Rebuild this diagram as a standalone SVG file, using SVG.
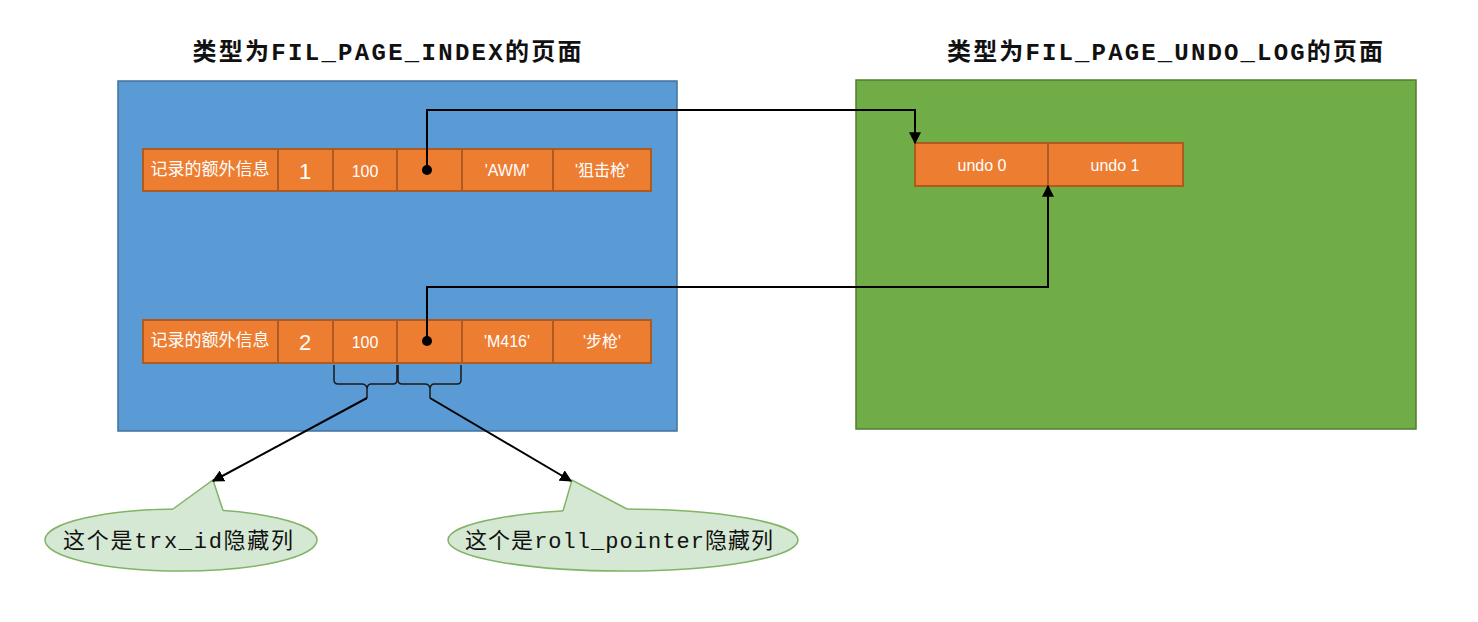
<svg xmlns="http://www.w3.org/2000/svg" width="1478" height="622" viewBox="0 0 1478 622">
<defs>
<style>
.page-blue{fill:#5B9BD5;stroke:#41719C;stroke-width:1.5}
.page-green{fill:#70AD47;stroke:#507E32;stroke-width:1.5}
.cell{fill:#ED7D31;stroke:#AE5A21;stroke-width:2}
.ct{font-family:"Liberation Sans","Noto Sans CJK SC",sans-serif;font-size:16px;fill:#ffffff;text-anchor:middle;dominant-baseline:central}
.lbl{font-size:17px}
.big{font-size:22px}
.title{font-family:"Liberation Mono","Noto Sans CJK SC",monospace;font-size:24px;font-weight:bold;fill:#111;text-anchor:middle}
.call{fill:#D5E8D4;stroke:#82B366;stroke-width:1.5}
.callfill{fill:#D5E8D4;stroke:none}
.calledge{fill:none;stroke:#82B366;stroke-width:1.5}
.callt{font-family:"Liberation Mono","Noto Sans CJK SC",monospace;font-size:22px;fill:#111;text-anchor:middle;dominant-baseline:central}
.wire{fill:none;stroke:#000;stroke-width:2}
.brace{fill:none;stroke:#1a1a1a;stroke-width:1.5}
</style>
<marker id="arr2" viewBox="0 0 10 10" refX="9" refY="5" markerWidth="12" markerHeight="12" markerUnits="userSpaceOnUse" orient="auto"><path d="M0,0 L10,5 L0,10 z" fill="#000"/></marker>
</defs>
<rect width="1478" height="622" fill="#fff"/>

<g id="title-index"><text class="title" x="387" y="60" textLength="389" lengthAdjust="spacing">类型为FIL_PAGE_INDEX的页面</text></g>
<g id="title-undo"><text class="title" x="1165" y="60" textLength="436" lengthAdjust="spacing">类型为FIL_PAGE_UNDO_LOG的页面</text></g>

<g id="page-index"><rect class="page-blue" x="118" y="81" width="559" height="350"/></g>
<g id="page-undo"><rect class="page-green" x="856" y="80" width="560" height="349"/></g>

<g id="record1">
<rect class="cell" x="143" y="149" width="135" height="42"/>
<rect class="cell" x="278" y="149" width="55" height="42"/>
<rect class="cell" x="333" y="149" width="64" height="42"/>
<rect class="cell" x="397" y="149" width="65" height="42"/>
<rect class="cell" x="462" y="149" width="91" height="42"/>
<rect class="cell" x="553" y="149" width="98" height="42"/>
<text class="ct lbl" x="210" y="169">记录的额外信息</text>
<text class="ct big" x="305" y="171">1</text>
<text class="ct" x="365" y="171">100</text>
<text class="ct" x="507" y="170">'AWM'</text>
<text class="ct" x="602" y="170">'狙击枪'</text>
</g>

<g id="record2">
<rect class="cell" x="143" y="320" width="135" height="43"/>
<rect class="cell" x="278" y="320" width="55" height="43"/>
<rect class="cell" x="333" y="320" width="64" height="43"/>
<rect class="cell" x="397" y="320" width="65" height="43"/>
<rect class="cell" x="462" y="320" width="91" height="43"/>
<rect class="cell" x="553" y="320" width="98" height="43"/>
<text class="ct lbl" x="210" y="340">记录的额外信息</text>
<text class="ct big" x="305" y="342">2</text>
<text class="ct" x="365" y="342">100</text>
<text class="ct" x="507" y="341">'M416'</text>
<text class="ct" x="602" y="341">'步枪'</text>
</g>

<g id="undo-log">
<rect class="cell" x="915" y="143" width="133" height="43"/>
<rect class="cell" x="1048" y="143" width="135" height="43"/>
<text class="ct" x="982" y="165">undo 0</text>
<text class="ct" x="1115" y="165">undo 1</text>
</g>

<g id="braces">
<path class="brace" d="M334,365 V380 Q334,384 338,384 H362 Q366,384 367,388 V398"/>
<path class="brace" d="M397,365 V380 Q397,384 393,384 H371 Q368,384 367,388"/>
<path class="brace" d="M398,365 V380 Q398,384 402,384 H425 Q429,384 430,388 V398"/>
<path class="brace" d="M461,365 V380 Q461,384 457,384 H434 Q431,384 430,388"/>
</g>

<g id="callout-trx">
<ellipse class="call" cx="181" cy="540" rx="136" ry="31"/>
<path class="callfill" d="M173,509 L213,480 L223,510.5 L223,515 L173,514 Z"/>
<path class="calledge" d="M173,509 L213,480 L223,510.5"/>
<text class="callt" x="178" y="542" textLength="230" lengthAdjust="spacing">这个是trx_id隐藏列</text>
</g>

<g id="callout-roll">
<ellipse class="call" cx="623" cy="540" rx="175" ry="31"/>
<path class="callfill" d="M563,511 L572,480 L627,509 L627,514 L563,515 Z"/>
<path class="calledge" d="M563,511 L572,480 L627,509"/>
<text class="callt" x="619" y="542" textLength="308" lengthAdjust="spacing">这个是roll_pointer隐藏列</text>
</g>

<g id="connectors">
<circle cx="427" cy="170" r="5" fill="#000"/>
<circle cx="427" cy="341" r="5" fill="#000"/>
<path class="wire" d="M427,170 V110 H915 V143" marker-end="url(#arr2)"/>
<path class="wire" d="M427,341 V287 H1048 V186" marker-end="url(#arr2)"/>
<path class="wire" d="M367,398 L213,481" marker-end="url(#arr2)"/>
<path class="wire" d="M430,398 L571,481" marker-end="url(#arr2)"/>
</g>
</svg>
